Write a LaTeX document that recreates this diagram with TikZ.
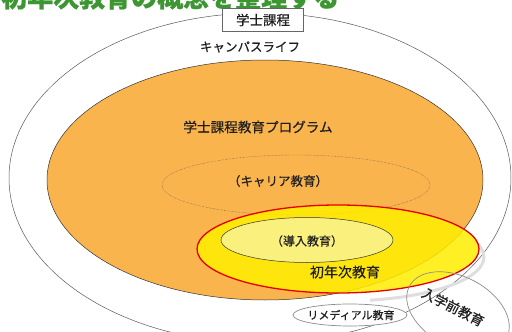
\documentclass[tikz,border=0pt]{standalone}
\usepackage{fontspec}
\newfontfamily\jp[FakeBold=0.4]{Noto Sans CJK JP}
\usetikzlibrary{shapes.geometric}
\definecolor{orangefill}{RGB}{250,180,78}
\definecolor{yel}{RGB}{255,238,0}
\definecolor{lightyel}{RGB}{250,240,125}
\definecolor{titlegreen}{RGB}{60,150,50}
\definecolor{txt}{RGB}{30,30,30}
\tikzset{
  oval/.style={ellipse, inner sep=0pt},
  lbl/.style={font=\jp\fontsize{#1}{#1}\selectfont, text=txt, inner sep=0pt},
}
\begin{document}
\begin{tikzpicture}[x=1pt,y=-1pt]
\useasboundingbox (0,0) rectangle (512,332);
\clip (0,0) rectangle (512,332);
\fill[white] (0,0) rectangle (512,332);
% title (cut off at top)
\node[anchor=base west, font=\jp\bfseries\fontsize{26}{26}\selectfont, text=titlegreen, inner sep=0pt] (title) at (1,7) {初年次教育の概念を整理する};
% outer ellipse (campus life)
\node[oval, draw=black!65, line width=0.5pt, fill=white, minimum width=502pt, minimum height=330pt] (campus) at (260,178) {};
% orange ellipse
\node[oval, draw=black!80, line width=0.5pt, fill=orangefill, minimum width=436pt, minimum height=240pt] (prog) at (265,180) {};
% career dotted
\node[oval, draw=black!70, densely dotted, line width=0.4pt, minimum width=268pt, minimum height=60pt] (career) at (296,185) {};
% shadow of yellow ellipse (lower right only)
\begin{scope}
\clip (370,240) rectangle (512,332);
\node[oval, draw=black!13, line width=3pt, minimum width=282pt, minimum height=88pt] (firstshadow) at (343,257) {};
\end{scope}
% yellow first year
\node[oval, draw=red!90!black, line width=1.3pt, fill=yel, fill opacity=0.85, minimum width=282pt, minimum height=88pt] (first) at (338,249) {};
% intro
\node[oval, draw=black!80, line width=0.5pt, fill=lightyel, minimum width=172pt, minimum height=45pt] (intro) at (307,240) {};
% remedial
\node[oval, draw=black!45, line width=0.7pt, fill=white, minimum width=114pt, minimum height=22pt] (remedial) at (350,315) {};
% pre-entrance
\node[oval, draw=black!45, line width=0.7pt, minimum width=110pt, minimum height=70pt, rotate=-28] (pre) at (458,312) {};
% box
\node[draw=black!60, fill=white, line width=0.6pt, minimum width=81pt, minimum height=23pt, inner sep=0pt, font=\jp\fontsize{13.5}{13.5}\selectfont, text=txt] (bachelor) at (263,20) {学士課程};
% labels
\node[lbl=12.5] (campuslbl) at (250,47) {キャンパスライフ};
\node[lbl=13.6] (proglbl) at (258,127) {学士課程教育プログラム};
\node[lbl=12.5] (careerlbl) at (278,181) {（キャリア教育）};
\node[lbl=12] (introlbl) at (307,241) {（導入教育）};
\node[lbl=14] (firstlbl) at (345,272) {初年次教育};
\node[lbl=11] (remediallbl) at (351,315) {リメディアル教育};
\node[lbl=13.5, rotate=-27] (prelbl) at (453,307) {入学前教育};
\end{tikzpicture}
\end{document}
